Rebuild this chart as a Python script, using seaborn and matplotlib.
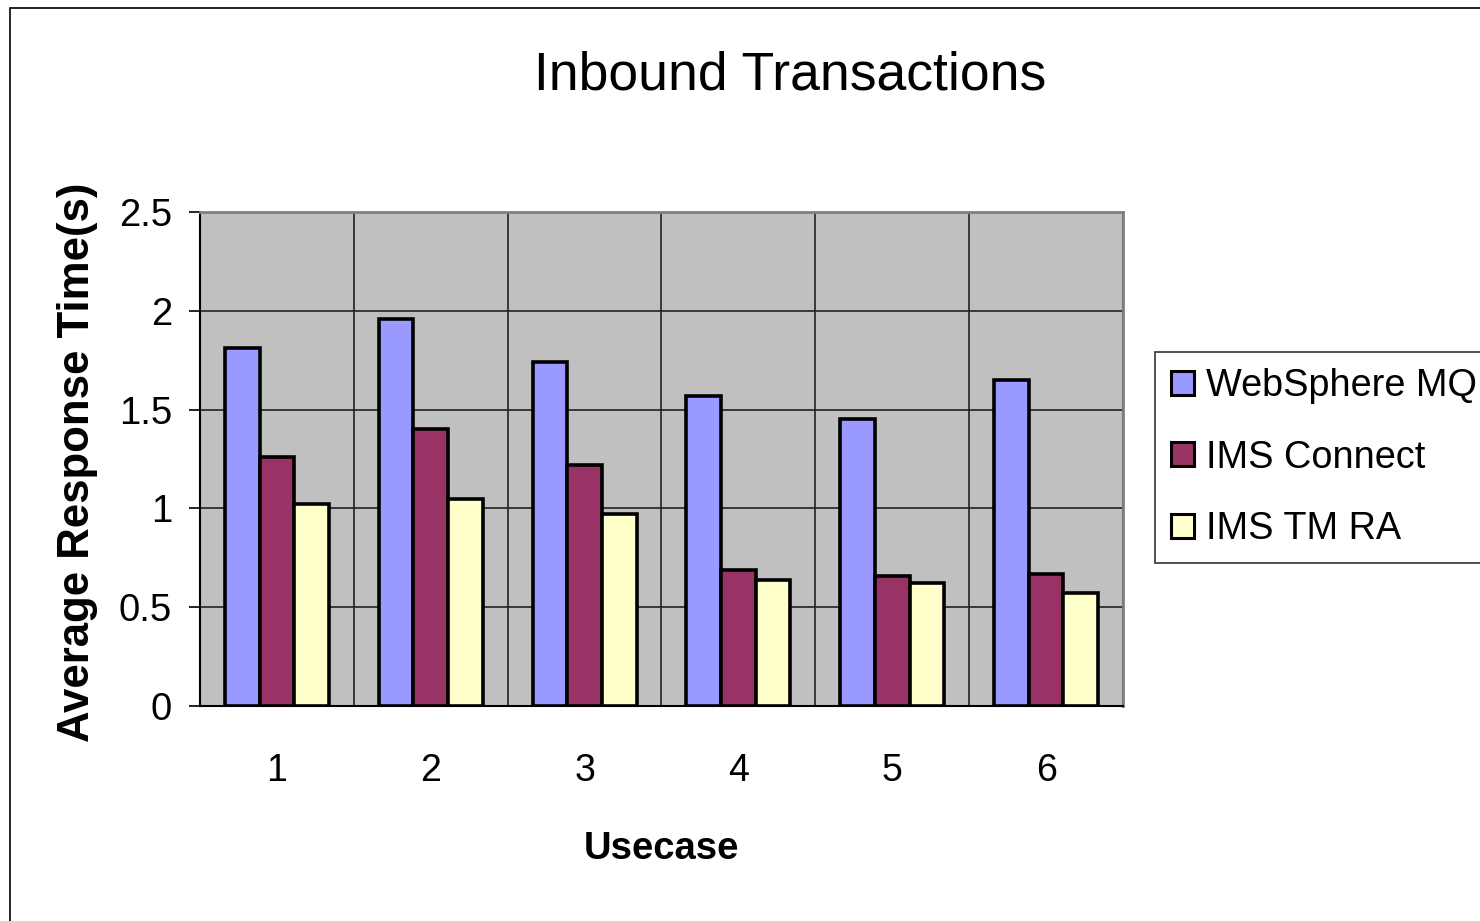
import pandas as pd
import matplotlib
matplotlib.use("Agg")
import matplotlib.pyplot as plt
import matplotlib.patches as mpatches
import seaborn as sns

usecases = ['1', '2', '3', '4', '5', '6']
series = ['WebSphere MQ', 'IMS Connect', 'IMS TM RA']
websphere_mq = [1.81, 1.96, 1.74, 1.57, 1.45, 1.65]
ims_connect = [1.26, 1.40, 1.22, 0.69, 0.66, 0.67]
ims_tm_ra = [1.02, 1.05, 0.97, 0.64, 0.62, 0.57]
colors = ['#9999FF', '#993366', '#FFFFCC']

rows = []
for name, vals in zip(series, [websphere_mq, ims_connect, ims_tm_ra]):
    for uc, v in zip(usecases, vals):
        rows.append({'Usecase': uc, 'Series': name, 'Time': v})
df = pd.DataFrame(rows)

sns.set_style('white')
plt.rcParams['font.family'] = ['Liberation Sans', 'DejaVu Sans']
plt.rcParams['text.color'] = 'black'
plt.rcParams['xtick.color'] = 'black'
plt.rcParams['ytick.color'] = 'black'
plt.rcParams['axes.labelcolor'] = 'black'

fig = plt.figure(figsize=(14.8, 9.21), dpi=100)
ax = fig.add_axes([200 / 1480, 1 - 706 / 921, 923 / 1480, 494 / 921])
ax.set_facecolor('#C0C0C0')

sns.barplot(data=df, x='Usecase', y='Time', hue='Series', hue_order=series,
            order=usecases, palette=colors, saturation=1, width=0.675,
            edgecolor='black', linewidth=2.6, legend=False, ax=ax, zorder=3)

ax.set_xlim(-0.5, 5.5)
ax.set_ylim(0, 2.5)
ax.set_yticks([0, 0.5, 1, 1.5, 2, 2.5])
ax.set_yticklabels(['0', '0.5', '1', '1.5', '2', '2.5'])
ax.set_xticks(range(6))
ax.set_xticklabels(usecases)
ax.set_xticks([i - 0.5 for i in range(7)], minor=True)

ax.tick_params(axis='x', which='major', length=0, pad=34, labelsize=27)
ax.tick_params(axis='x', which='minor', length=9, width=1.2, color='black', direction='out')
ax.tick_params(axis='y', which='major', length=8, width=1.2, color='black', direction='out',
               pad=12, labelsize=27.5, left=True)

ax.grid(False)
ax.yaxis.grid(True, color='#222222', linewidth=1.2, zorder=1)
ax.xaxis.grid(True, which='minor', color='#222222', linewidth=1.2, zorder=1)
ax.set_axisbelow(True)

for side in ['top', 'right']:
    ax.spines[side].set_color('#808080')
    ax.spines[side].set_linewidth(2)
for side in ['left', 'bottom']:
    ax.spines[side].set_color('black')
    ax.spines[side].set_linewidth(1.5)

ax.set_xlabel('Usecase', fontsize=27.5, fontweight='bold')
ax.set_ylabel('Average Response Time(s)', fontsize=31.5, fontweight='bold')
ax.xaxis.set_label_coords(0.5, -0.254)
ax.yaxis.set_label_coords(-0.11, 0.493)

fig.text(790 / 1480, 1 - 75 / 921, 'Inbound Transactions', fontsize=38.5,
         ha='center', va='center')

handles = [mpatches.Patch(facecolor=c, edgecolor='black', linewidth=2.2) for c in colors]
leg = fig.legend(handles, series, loc='upper left', bbox_to_anchor=(1155 / 1480, 1 - 352 / 921),
                 frameon=True, fancybox=False, edgecolor='black', fontsize=27.3,
                 handlelength=0.6, handleheight=0.6, handletextpad=0.32,
                 labelspacing=0.94, borderpad=0.42, borderaxespad=0)
leg.get_frame().set_linewidth(1.2)

fig.patches.append(mpatches.Rectangle((10 / 1480, -0.1), 1.5, 1 - 8 / 921 + 0.1,
                                      fill=False, edgecolor='black', linewidth=1.2,
                                      transform=fig.transFigure, figure=fig))

fig.savefig('out.png', dpi=100)
